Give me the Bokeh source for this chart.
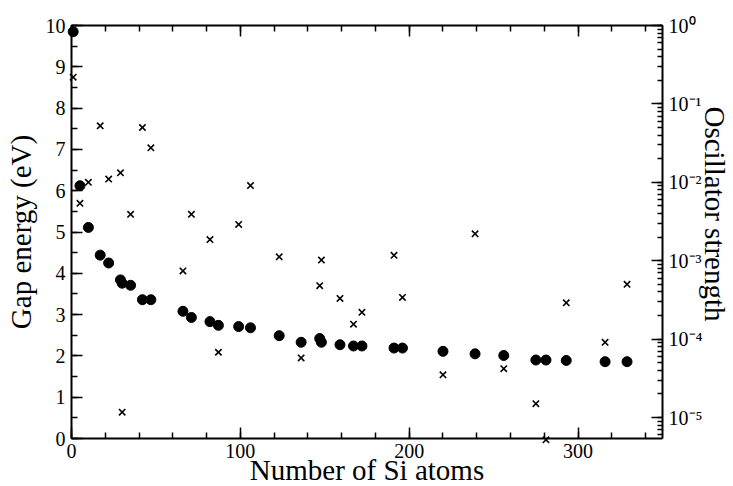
import math
from bokeh.plotting import figure
from bokeh.models import (Range1d, LinearAxis, LogAxis, LogScale, SingleIntervalTicker,
                          LogTicker, CustomJSTickFormatter)
from bokeh.core.properties import value
from bokeh.embed import file_html
from bokeh.resources import INLINE

# Number of Si atoms in each cluster
n_si = [1, 5, 10, 17, 22, 29, 30, 35, 42, 47, 66, 71, 82, 87, 99, 106, 123, 136,
        147, 148, 159, 167, 172, 191, 196, 220, 239, 256, 275, 281, 293, 316, 329]
# Gap energy (eV) - left axis
gap_ev = [9.85, 6.12, 5.11, 4.44, 4.25, 3.84, 3.76, 3.71, 3.36, 3.36, 3.08, 2.93, 2.83,
          2.74, 2.71, 2.68, 2.49, 2.33, 2.42, 2.33, 2.27, 2.24, 2.24, 2.19, 2.19, 2.11,
          2.05, 2.01, 1.90, 1.90, 1.89, 1.86, 1.86]
# Oscillator strength - right (log) axis
osc = [0.219, 5.4e-3, 1.0e-2, 0.0525, 0.011, 0.0132, 1.17e-5, 3.9e-3, 0.050, 0.0275,
       7.4e-4, 3.9e-3, 1.86e-3, 6.8e-5, 2.9e-3, 9.1e-3, 1.12e-3, 5.75e-5, 4.8e-4,
       1.02e-3, 3.3e-4, 1.55e-4, 2.2e-4, 1.17e-3, 3.4e-4, 3.5e-5, 2.2e-3, 4.2e-5,
       1.5e-5, 5.2e-6, 2.9e-4, 9.1e-5, 5.0e-4]

x_title = "Number of Si atoms"
y_title = "Gap energy (eV)"
y2_title = "Oscillator strength"

FONT = "Liberation Serif"
TITLE_SIZE = "29px"

X0, X1 = 0, 350
Y0, Y1 = 0, 10

p = figure(width=733, height=486, x_range=Range1d(X0, X1), y_range=Range1d(Y0, Y1),
           output_backend="svg", toolbar_location=None,
           min_border_left=71, min_border_right=71, min_border_top=25, min_border_bottom=48)
p.extra_y_ranges = {"osc": Range1d(5.4e-6, 1.0)}
p.extra_y_scales = {"osc": LogScale()}
p.grid.visible = False
p.outline_line_color = None
p.background_fill_color = "white"
p.border_fill_color = "white"


def style(ax, major_in=11, minor_in=6):
    ax.axis_line_color = "black"
    ax.axis_line_width = 2
    ax.major_tick_line_color = "black"
    ax.minor_tick_line_color = "black"
    ax.major_tick_line_width = 1.5
    ax.minor_tick_line_width = 1.5
    ax.major_tick_in = major_in
    ax.major_tick_out = 0
    ax.minor_tick_in = minor_in
    ax.minor_tick_out = 0
    ax.major_label_text_font = FONT
    ax.major_label_text_font_size = "20px"
    ax.major_label_text_color = "black"
    ax.axis_label_text_font = FONT
    ax.axis_label_text_font_size = TITLE_SIZE
    ax.axis_label_text_font_style = "normal"
    ax.axis_label_text_color = "black"


xa = p.xaxis[0]
xa.ticker = SingleIntervalTicker(interval=100, num_minor_ticks=5)
style(xa)
xa.major_label_standoff = 5

top = LinearAxis(ticker=SingleIntervalTicker(interval=100, num_minor_ticks=5),
                 formatter=CustomJSTickFormatter(code="return '';"))
style(top)
top.major_label_text_font_size = "0px"
top.major_label_standoff = 0
p.add_layout(top, "above")

ya = p.yaxis[0]
ya.ticker = SingleIntervalTicker(interval=1, num_minor_ticks=2)
style(ya)
ya.axis_label = y_title
ya.major_label_standoff = 6
ya.axis_label_standoff = 6

sup_code = """
const sup = {"-": "\\u207B", "0": "\\u2070", "1": "\\u00B9", "2": "\\u00B2", "3": "\\u00B3",
             "4": "\\u2074", "5": "\\u2075", "6": "\\u2076", "7": "\\u2077", "8": "\\u2078",
             "9": "\\u2079"};
const e = Math.round(Math.log10(tick));
return "10" + String(e).split("").map(c => sup[c]).join("");
"""
ra = LogAxis(y_range_name="osc", ticker=LogTicker(num_minor_ticks=10),
             formatter=CustomJSTickFormatter(code=sup_code))
style(ra, major_in=11, minor_in=5)
ra.major_label_standoff = 6
p.add_layout(ra, "right")

# Bottom and right axis titles, anchored to the frame edges with pixel offsets
tx = p.text(x=[(X0 + X1) / 2], y=[Y0], text=[x_title], y_offset=31,
            text_font=value(FONT), text_font_size=TITLE_SIZE, text_color="black",
            text_align="center", text_baseline="alphabetic")
ty2 = p.text(x=[X1], y=[(Y0 + Y1) / 2], text=[y2_title], x_offset=52, y_offset=-18,
             angle=-math.pi / 2, text_font=value(FONT), text_font_size=TITLE_SIZE,
             text_color="black", text_align="center", text_baseline="alphabetic")
tx.level = "overlay"
ty2.level = "overlay"

r1 = p.scatter(n_si, gap_ev, size=10, color="black")
r2 = p.scatter(n_si, osc, marker="x", size=9, line_color="black", line_width=1.6,
               y_range_name="osc")
r1.level = "overlay"
r2.level = "overlay"

open("out.html", "w").write(file_html(p, INLINE))
